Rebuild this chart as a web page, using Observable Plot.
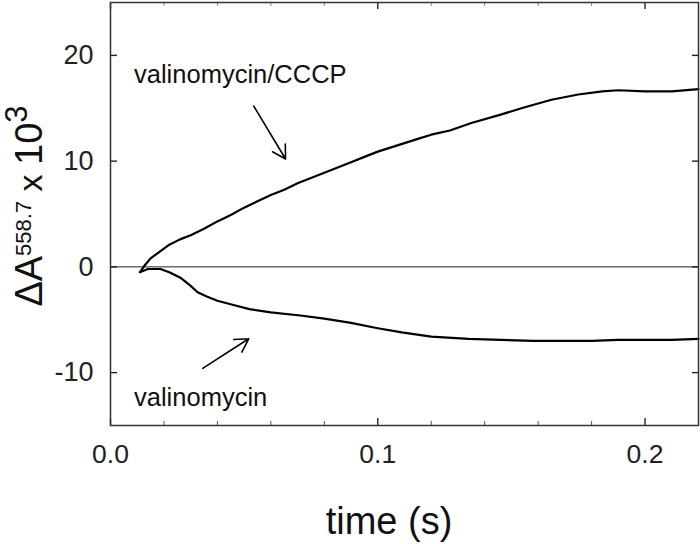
<!DOCTYPE html>
<html>
<head>
<meta charset="utf-8">
<script src="https://cdn.jsdelivr.net/npm/d3@7"></script>
<script src="https://cdn.jsdelivr.net/npm/@observablehq/plot@0.6"></script>
<style>
  html, body { margin: 0; padding: 0; background: #fff; }
</style>
</head>
<body>
<div id="chart"></div>
<script>
// valinomycin/CCCP trace (time in s, ΔA558.7 × 10^3)
const tCCCP = [0.011, 0.013, 0.015, 0.0187, 0.022, 0.026, 0.030, 0.035, 0.040, 0.045, 0.050, 0.055, 0.060, 0.065, 0.070, 0.075, 0.080, 0.085, 0.090, 0.095, 0.100, 0.105, 0.110, 0.115, 0.120, 0.127, 0.135, 0.146, 0.155, 0.165, 0.175, 0.184, 0.190, 0.200, 0.210, 0.220];
const vCCCP = [-0.5, 0.2, 0.8, 1.5, 2.1, 2.6, 3.0, 3.6, 4.3, 4.9, 5.6, 6.2, 6.8, 7.3, 7.9, 8.4, 8.9, 9.4, 9.9, 10.4, 10.9, 11.3, 11.7, 12.1, 12.5, 12.9, 13.6, 14.4, 15.1, 15.8, 16.3, 16.6, 16.7, 16.6, 16.6, 16.8];

// valinomycin trace
const tVal = [0.011, 0.014, 0.0187, 0.022, 0.026, 0.030, 0.0326, 0.036, 0.040, 0.046, 0.052, 0.060, 0.071, 0.080, 0.090, 0.100, 0.109, 0.120, 0.134, 0.146, 0.158, 0.170, 0.180, 0.190, 0.200, 0.210, 0.220];
const vVal = [-0.5, -0.2, -0.2, -0.5, -1.0, -1.8, -2.4, -2.8, -3.2, -3.6, -4.0, -4.3, -4.6, -4.9, -5.3, -5.8, -6.2, -6.6, -6.8, -6.9, -7.0, -7.0, -7.0, -6.9, -6.9, -6.9, -6.8];

// axes
const xDomain = [0, 0.22];
const yDomain = [-15, 25];
const xMajorTicks = [0.0, 0.1, 0.2];
const xMinorTicks = [0.02, 0.04, 0.06, 0.08, 0.12, 0.14, 0.16, 0.18];
const yTicks = [-10, 0, 10, 20];

// annotations
const labelText = ["valinomycin/CCCP", "valinomycin"];
const labelT = [0.0088, 0.0088];
const labelV = [17.4, -13.2];
const arrowT1 = [0.0536, 0.0345];
const arrowV1 = [15.2, -9.6];
const arrowT2 = [0.0655, 0.0517];
const arrowV2 = [10.2, -6.8];

const cccp = tCCCP.map((t, i) => ({t, v: vCCCP[i]}));
const val = tVal.map((t, i) => ({t, v: vVal[i]}));
const labels = labelText.map((s, i) => ({s, t: labelT[i], v: labelV[i]}));
const arrows = arrowT1.map((t, i) => ({t1: t, v1: arrowV1[i], t2: arrowT2[i], v2: arrowV2[i]}));

const font = "'Liberation Sans', Arial, Helvetica, sans-serif";

const W = 700, H = 544, mL = 110, mR = 2, mT = 2, mB = 119;
const frameW = W - mL - mR;   // 588
const frameH = H - mT - mB;   // 423
const tickMaj = 7, tickMin = 4, tickRight = 6;
const yTop = yDomain[1], yBottom = yDomain[0];

const svg = Plot.plot({
  width: W,
  height: H,
  marginLeft: mL,
  marginRight: mR,
  marginTop: mT,
  marginBottom: mB,
  x: {domain: xDomain},
  y: {domain: yDomain},
  style: {fontFamily: font, background: "#fff", color: "#111", overflow: "visible"},
  marks: [
    Plot.ruleY([0], {stroke: "#222", strokeWidth: 1}),
    Plot.line(cccp, {x: "t", y: "v", stroke: "#000", strokeWidth: 2.2}),
    Plot.line(val, {x: "t", y: "v", stroke: "#000", strokeWidth: 2.2}),
    Plot.text(labels, {x: "t", y: "v", text: "s", textAnchor: "start", lineAnchor: "bottom", fontSize: 25.5, fill: "#111"}),
    Plot.arrow(arrows, {x1: "t1", y1: "v1", x2: "t2", y2: "v2", stroke: "#000", strokeWidth: 1.6, headLength: 14}),
    // tick labels
    Plot.axisX({anchor: "bottom", ticks: xMajorTicks, tickSize: 0, tickPadding: 19, fontSize: 26.5, tickFormat: d3.format(".1f"), label: null, fill: "#222"}),
    Plot.axisY({anchor: "left", ticks: yTicks, tickSize: 0, tickPadding: 17, fontSize: 27, tickFormat: d => String(d), label: null, fill: "#222"}),
    // inward tick marks: bottom, top (y1 = top of frame, y2 = bottom of frame)
    Plot.ruleX(xMajorTicks, {x: d => d, y1: yTop, y2: yBottom, insetTop: frameH - tickMaj, stroke: "#222", strokeWidth: 1.4}),
    Plot.ruleX(xMinorTicks, {x: d => d, y1: yTop, y2: yBottom, insetTop: frameH - tickMin, stroke: "#555", strokeWidth: 1}),
    Plot.ruleX(xMajorTicks, {x: d => d, y1: yTop, y2: yBottom, insetBottom: frameH - tickMaj, stroke: "#222", strokeWidth: 1.4}),
    Plot.ruleX(xMinorTicks, {x: d => d, y1: yTop, y2: yBottom, insetBottom: frameH - tickMin, stroke: "#888", strokeWidth: 1}),
    // inward tick marks: left, right
    Plot.ruleY(yTicks, {y: d => d, x1: xDomain[0], x2: xDomain[1], insetRight: frameW - tickMaj, stroke: "#222", strokeWidth: 1.4}),
    Plot.ruleY(yTicks, {y: d => d, x1: xDomain[0], x2: xDomain[1], insetLeft: frameW - tickRight, stroke: "#222", strokeWidth: 1.4}),
    Plot.frame({stroke: "#333", strokeWidth: 1.5})
  ]
});

const s = d3.select(svg);
// x axis title
s.append("text")
  .attr("x", 389)
  .attr("y", 534)
  .attr("text-anchor", "middle")
  .attr("font-family", font)
  .attr("font-size", 38)
  .attr("fill", "#111")
  .text("time (s)");

// y axis title: ΔA^558.7 x 10^3
const yt = s.append("text")
  .attr("transform", "translate(42,206) rotate(-90)")
  .attr("text-anchor", "middle")
  .attr("font-family", font)
  .attr("font-size", 38)
  .attr("fill", "#111");
yt.append("tspan").text("ΔA");
yt.append("tspan").attr("font-size", 22).attr("dy", -11).text("558.7");
yt.append("tspan").attr("font-size", 34).attr("dy", 11).text(" x ");
yt.append("tspan").text("10");
yt.append("tspan").attr("font-size", 31).attr("dy", -15).text("3");

document.getElementById("chart").appendChild(svg);
</script>
</body>
</html>
